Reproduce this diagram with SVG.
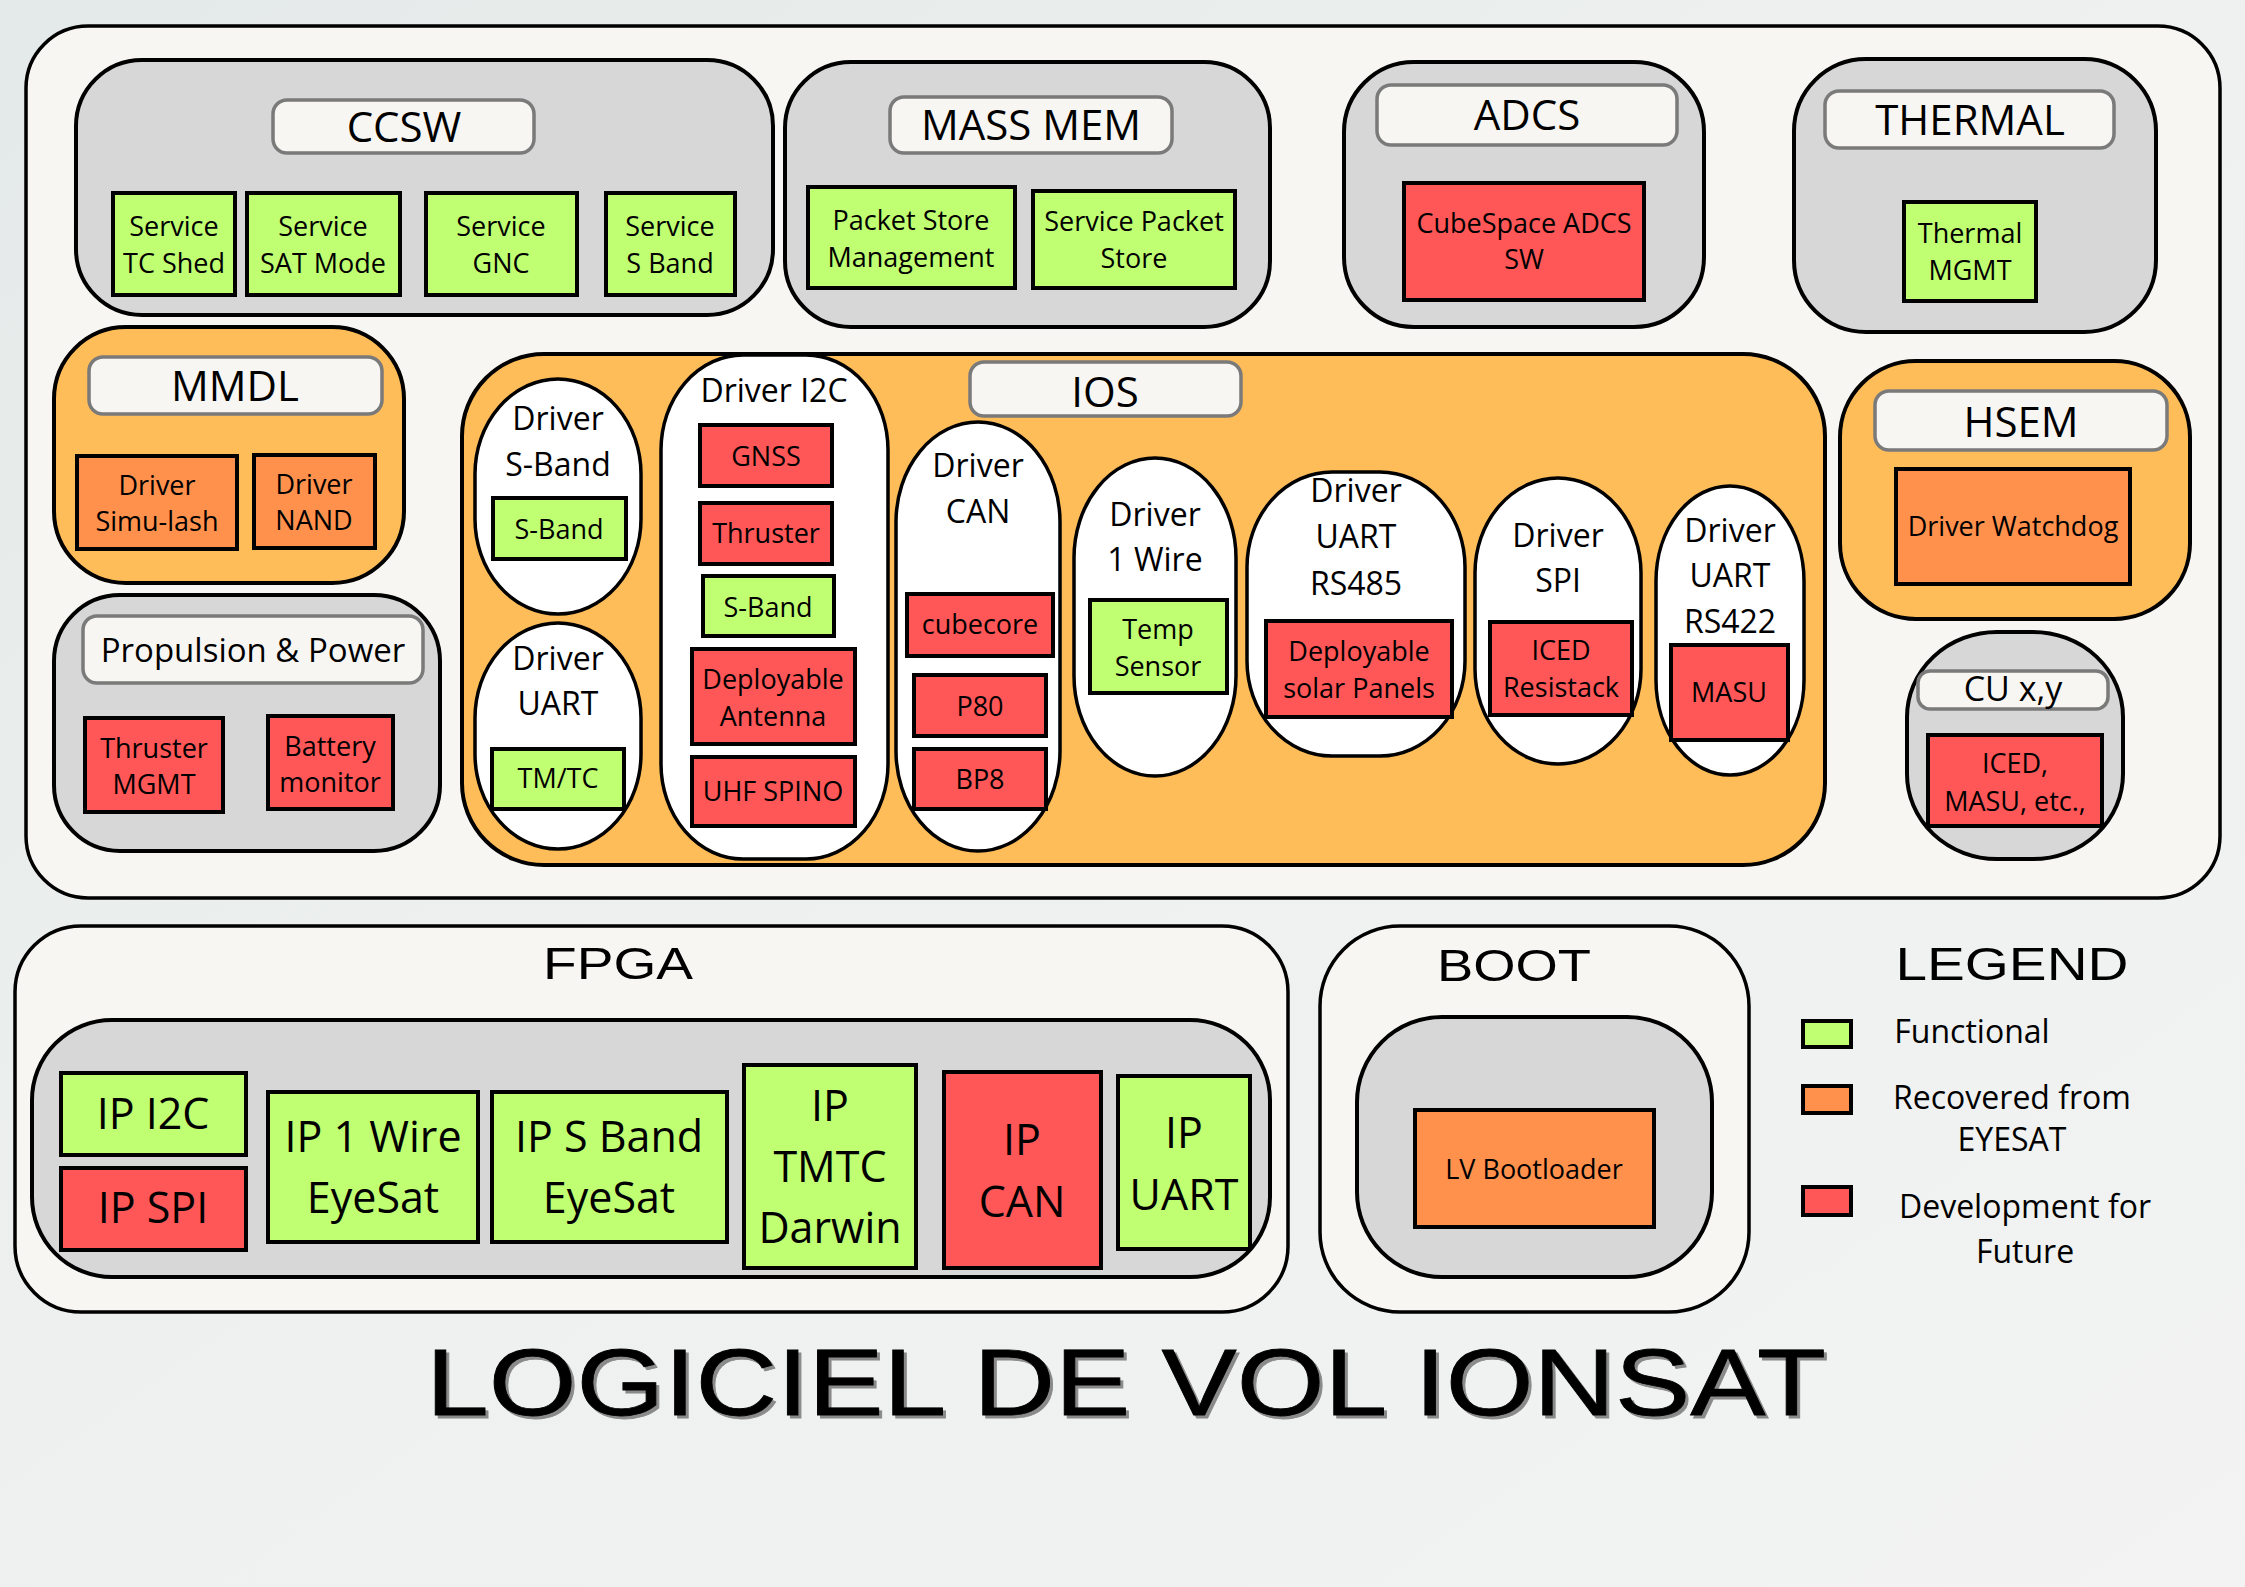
<svg xmlns="http://www.w3.org/2000/svg" width="2245" height="1587" viewBox="0 0 2245 1587">
<defs>
<linearGradient id="bg" x1="0" y1="0" x2="1" y2="1">
<stop offset="0" stop-color="#e4eae9"/>
<stop offset="0.5" stop-color="#eef1f0"/>
<stop offset="1" stop-color="#f2f3f2"/>
</linearGradient>
</defs>
<style>
.frame{fill:#f8f6f2;stroke:#000;stroke-width:3.5}
.gray{fill:#d7d7d7;stroke:#000;stroke-width:4}
.orng{fill:#ffbd59;stroke:#000;stroke-width:4}
.bub{fill:#fff;stroke:#000;stroke-width:3.5}
.pill{fill:#f8f6f2;stroke:#7a7a7a;stroke-width:3.5}
.g{fill:#c1ff72;stroke:#000;stroke-width:4}
.o{fill:#ff914d;stroke:#000;stroke-width:4}
.r{fill:#ff5757;stroke:#000;stroke-width:4}
text{font-family:"Open Sans","Noto Sans",sans-serif;fill:#000;text-anchor:middle}
.t{font-size:42px}
.s{font-size:27px}
.h{font-size:32px}
.ip{font-size:43px}
.big{font-family:"Liberation Sans",Arial,sans-serif;font-size:44px}
.lg{font-size:32px}
.ttl{font-family:"Liberation Sans",Arial,sans-serif;font-size:94px;stroke-width:0.8}
</style>
<rect width="2245" height="1587" fill="url(#bg)"/>

<g id="main-frame"><rect class="frame" x="26" y="26" width="2194" height="872" rx="62"/></g>

<g id="ccsw">
<rect class="gray" x="76" y="60" width="697" height="255" rx="66"/>
<rect class="pill" x="273" y="100" width="261" height="53" rx="14"/>
<text class="t" x="404" y="142">CCSW</text>
<g id="svc-tc"><rect class="g" x="113" y="193" width="122" height="102"/><text class="s" x="174" y="236">Service</text><text class="s" x="174" y="273">TC Shed</text></g>
<g id="svc-sat"><rect class="g" x="247" y="193" width="153" height="102"/><text class="s" x="323" y="236">Service</text><text class="s" x="323" y="273">SAT Mode</text></g>
<g id="svc-gnc"><rect class="g" x="426" y="193" width="151" height="102"/><text class="s" x="501" y="236">Service</text><text class="s" x="501" y="273">GNC</text></g>
<g id="svc-sband"><rect class="g" x="606" y="193" width="129" height="102"/><text class="s" x="670" y="236">Service</text><text class="s" x="670" y="273">S Band</text></g>
</g>

<g id="massmem">
<rect class="gray" x="785" y="62" width="485" height="265" rx="66"/>
<rect class="pill" x="890" y="97" width="282" height="56" rx="14"/>
<text class="t" x="1031" y="140">MASS MEM</text>
<g id="pkt-mgmt"><rect class="g" x="808" y="187" width="207" height="101"/><text class="s" x="911" y="230">Packet Store</text><text class="s" x="911" y="267">Management</text></g>
<g id="svc-pkt"><rect class="g" x="1033" y="191" width="202" height="97"/><text class="s" x="1134" y="231">Service Packet</text><text class="s" x="1134" y="268">Store</text></g>
</g>

<g id="adcs">
<rect class="gray" x="1344" y="62" width="360" height="265" rx="70"/>
<rect class="pill" x="1377" y="85" width="300" height="60" rx="14"/>
<text class="t" x="1527" y="130">ADCS</text>
<g id="cubespace"><rect class="r" x="1404" y="183" width="240" height="117"/><text class="s" x="1524" y="233">CubeSpace ADCS</text><text class="s" x="1524" y="269">SW</text></g>
</g>

<g id="thermal">
<rect class="gray" x="1794" y="59" width="362" height="273" rx="72"/>
<rect class="pill" x="1825" y="91" width="289" height="57" rx="14"/>
<text class="t" x="1970" y="135">THERMAL</text>
<g id="thermal-mgmt"><rect class="g" x="1904" y="202" width="132" height="99"/><text class="s" x="1970" y="243">Thermal</text><text class="s" x="1970" y="280">MGMT</text></g>
</g>

<g id="mmdl">
<rect class="orng" x="54" y="327" width="350" height="256" rx="72"/>
<rect class="pill" x="89" y="357" width="293" height="57" rx="14"/>
<text class="t" x="235" y="401">MMDL</text>
<g id="drv-simu"><rect class="o" x="77" y="456" width="160" height="93"/><text class="s" x="157" y="495">Driver</text><text class="s" x="157" y="531">Simu-lash</text></g>
<g id="drv-nand"><rect class="o" x="254" y="455" width="121" height="93"/><text class="s" x="314" y="494">Driver</text><text class="s" x="314" y="530">NAND</text></g>
</g>

<g id="propulsion">
<rect class="gray" x="54" y="595" width="386" height="256" rx="66"/>
<rect class="pill" x="83" y="616" width="340" height="67" rx="14"/>
<text x="253" y="662" style="font-size:33px">Propulsion &amp; Power</text>
<g id="thruster-mgmt"><rect class="r" x="85" y="718" width="138" height="94"/><text class="s" x="154" y="758">Thruster</text><text class="s" x="154" y="794">MGMT</text></g>
<g id="battery"><rect class="r" x="268" y="716" width="125" height="93"/><text class="s" x="330" y="756">Battery</text><text class="s" x="330" y="792">monitor</text></g>
</g>

<g id="ios">
<rect class="orng" x="462" y="354" width="1363" height="511" rx="82"/>
<rect class="pill" x="970" y="362" width="271" height="54" rx="14"/>
<text class="t" x="1105" y="407">IOS</text>

<g id="drv-sband">
<rect class="bub" x="475" y="379" width="166" height="235" rx="83" ry="95"/>
<text class="h" x="558" y="430">Driver</text><text class="h" x="558" y="476">S-Band</text>
<rect class="g" x="493" y="498" width="133" height="61"/><text class="s" x="559" y="539">S-Band</text>
</g>
<g id="drv-uart">
<rect class="bub" x="475" y="623" width="166" height="226" rx="83" ry="95"/>
<text class="h" x="558" y="670">Driver</text><text class="h" x="558" y="715">UART</text>
<rect class="g" x="492" y="749" width="132" height="60"/><text class="s" x="558" y="788">TM/TC</text>
</g>
<g id="drv-i2c">
<rect class="bub" x="661" y="355" width="227" height="504" rx="82" ry="95"/>
<text class="h" x="774" y="402">Driver I2C</text>
<rect class="r" x="700" y="425" width="132" height="61"/><text class="s" x="766" y="466">GNSS</text>
<rect class="r" x="700" y="503" width="132" height="61"/><text class="s" x="766" y="543">Thruster</text>
<rect class="g" x="703" y="576" width="131" height="60"/><text class="s" x="768" y="617">S-Band</text>
<rect class="r" x="692" y="649" width="163" height="95"/><text class="s" x="773" y="689">Deployable</text><text class="s" x="773" y="726">Antenna</text>
<rect class="r" x="692" y="757" width="163" height="69"/><text class="s" x="773" y="801">UHF SPINO</text>
</g>
<g id="drv-can">
<rect class="bub" x="896" y="422" width="164" height="429" rx="82" ry="100"/>
<text class="h" x="978" y="477">Driver</text><text class="h" x="978" y="523">CAN</text>
<rect class="r" x="907" y="594" width="146" height="62"/><text class="s" x="980" y="634">cubecore</text>
<rect class="r" x="914" y="675" width="132" height="61"/><text class="s" x="980" y="716">P80</text>
<rect class="r" x="914" y="749" width="132" height="60"/><text class="s" x="980" y="789">BP8</text>
</g>
<g id="drv-1wire">
<rect class="bub" x="1074" y="458" width="162" height="318" rx="81" ry="100"/>
<text class="h" x="1155" y="526">Driver</text><text class="h" x="1155" y="571">1 Wire</text>
<rect class="g" x="1090" y="600" width="137" height="93"/><text class="s" x="1158" y="639">Temp</text><text class="s" x="1158" y="676">Sensor</text>
</g>
<g id="drv-rs485">
<rect class="bub" x="1247" y="472" width="218" height="284" rx="85" ry="95"/>
<text class="h" x="1356" y="502">Driver</text><text class="h" x="1356" y="548">UART</text><text class="h" x="1356" y="595">RS485</text>
<rect class="r" x="1266" y="621" width="186" height="96"/><text class="s" x="1359" y="661">Deployable</text><text class="s" x="1359" y="698">solar Panels</text>
</g>
<g id="drv-spi">
<rect class="bub" x="1475" y="478" width="166" height="286" rx="83" ry="95"/>
<text class="h" x="1558" y="547">Driver</text><text class="h" x="1558" y="592">SPI</text>
<rect class="r" x="1490" y="622" width="142" height="93"/><text class="s" x="1561" y="660">ICED</text><text class="s" x="1561" y="697">Resistack</text>
</g>
<g id="drv-rs422">
<rect class="bub" x="1656" y="486" width="148" height="289" rx="74" ry="95"/>
<text class="h" x="1730" y="542">Driver</text><text class="h" x="1730" y="587">UART</text><text class="h" x="1730" y="633">RS422</text>
<rect class="r" x="1671" y="645" width="117" height="95"/><text class="s" x="1729" y="702">MASU</text>
</g>
</g>

<g id="hsem">
<rect class="orng" x="1840" y="361" width="350" height="258" rx="76"/>
<rect class="pill" x="1875" y="391" width="292" height="59" rx="14"/>
<text class="t" x="2021" y="437">HSEM</text>
<g id="watchdog"><rect class="o" x="1896" y="469" width="234" height="115"/><text class="s" x="2013" y="536">Driver Watchdog</text></g>
</g>

<g id="cuxy">
<rect class="gray" x="1907" y="632" width="216" height="227" rx="90" ry="85"/>
<rect class="pill" x="1918" y="671" width="190" height="38" rx="12"/>
<text x="2013" y="701" style="font-size:34px">CU x,y</text>
<g id="iced-masu"><rect class="r" x="1928" y="735" width="174" height="91"/><text class="s" x="2015" y="773">ICED,</text><text class="s" x="2015" y="811">MASU, etc.,</text></g>
</g>

<g id="fpga">
<rect class="frame" x="15" y="926" width="1273" height="386" rx="66"/>
<text class="big" x="618" y="979" textLength="150" lengthAdjust="spacingAndGlyphs">FPGA</text>
<rect class="gray" x="32" y="1020" width="1238" height="257" rx="80"/>
<g id="ip-i2c"><rect class="g" x="61" y="1073" width="185" height="82"/><text class="ip" x="153" y="1129">IP I2C</text></g>
<g id="ip-spi"><rect class="r" x="61" y="1168" width="185" height="82"/><text class="ip" x="153" y="1223">IP SPI</text></g>
<g id="ip-1wire"><rect class="g" x="268" y="1092" width="210" height="150"/><text class="ip" x="373" y="1152">IP 1 Wire</text><text class="ip" x="373" y="1213">EyeSat</text></g>
<g id="ip-sband"><rect class="g" x="492" y="1092" width="235" height="150"/><text class="ip" x="609" y="1152">IP S Band</text><text class="ip" x="609" y="1213">EyeSat</text></g>
<g id="ip-tmtc"><rect class="g" x="744" y="1065" width="172" height="203"/><text class="ip" x="830" y="1121">IP</text><text class="ip" x="830" y="1182">TMTC</text><text class="ip" x="830" y="1243">Darwin</text></g>
<g id="ip-can"><rect class="r" x="944" y="1072" width="157" height="196"/><text class="ip" x="1022" y="1155">IP</text><text class="ip" x="1022" y="1217">CAN</text></g>
<g id="ip-uart"><rect class="g" x="1118" y="1076" width="132" height="173"/><text class="ip" x="1184" y="1148">IP</text><text class="ip" x="1184" y="1210">UART</text></g>
</g>

<g id="boot">
<rect class="frame" x="1320" y="926" width="429" height="386" rx="80"/>
<text class="big" x="1514" y="981" textLength="154" lengthAdjust="spacingAndGlyphs">BOOT</text>
<rect class="gray" x="1357" y="1017" width="355" height="260" rx="85"/>
<g id="bootloader"><rect class="o" x="1415" y="1110" width="239" height="117"/><text class="s" x="1534" y="1179">LV Bootloader</text></g>
</g>

<g id="legend">
<text class="big" x="2012" y="980" style="font-size:46px" textLength="233" lengthAdjust="spacingAndGlyphs">LEGEND</text>
<rect class="g" x="1803" y="1021" width="48" height="26"/>
<text class="lg" x="1972" y="1043">Functional</text>
<rect class="o" x="1803" y="1086" width="48" height="27"/>
<text class="lg" x="2012" y="1109">Recovered from</text>
<text class="lg" x="2012" y="1151">EYESAT</text>
<rect class="r" x="1803" y="1187" width="48" height="28"/>
<text class="lg" x="2025" y="1218">Development for</text>
<text class="lg" x="2025" y="1263">Future</text>
</g>

<g id="connectors"></g>

<g id="title">
<text class="ttl" x="1129" y="1418" style="fill:#8a8a8a;stroke:#8a8a8a" textLength="1400" lengthAdjust="spacingAndGlyphs">LOGICIEL DE VOL IONSAT</text>
<text class="ttl" x="1126" y="1415" style="stroke:#000" textLength="1400" lengthAdjust="spacingAndGlyphs">LOGICIEL DE VOL IONSAT</text>
</g>
</svg>
